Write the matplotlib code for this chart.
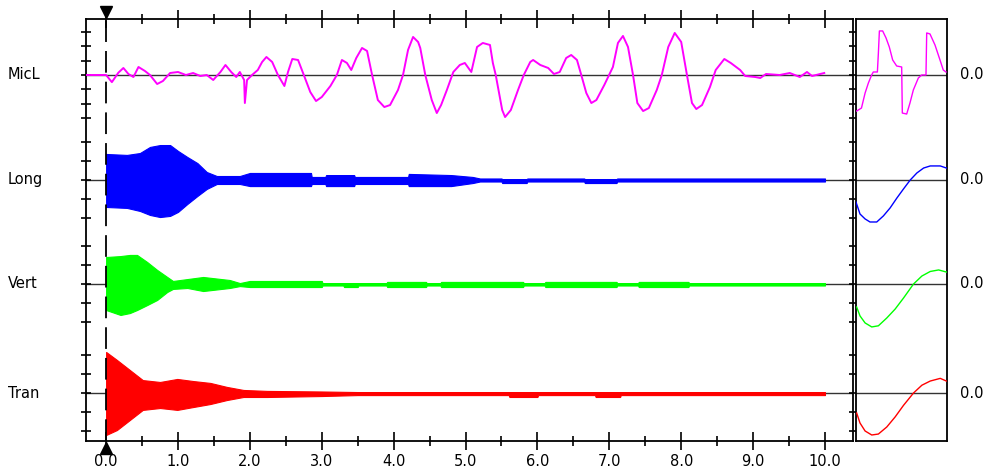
import numpy as np
import matplotlib.pyplot as plt
from matplotlib.ticker import MultipleLocator
from matplotlib.transforms import blended_transform_factory

names = ['MicL', 'Long', 'Vert', 'Tran']
colors = ['#ff00ff', '#0000ff', '#00ff00', '#ff0000']

# MicL trace: time (s) and amplitude (divisions)
micl_t = [-0.28, 0.00, 0.08, 0.17, 0.24, 0.31, 0.38, 0.45, 0.54, 0.61, 0.71, 0.79, 0.89,
          1.00, 1.11, 1.21, 1.31, 1.40, 1.49, 1.59, 1.66, 1.74, 1.81, 1.86, 1.92, 1.93,
          1.96, 2.03, 2.11, 2.17, 2.23, 2.31, 2.39, 2.48, 2.53, 2.59, 2.67, 2.75, 2.84,
          2.92, 3.00, 3.12, 3.21, 3.28, 3.35, 3.41, 3.48, 3.56, 3.63, 3.70, 3.78, 3.87,
          3.95, 4.06, 4.13, 4.20, 4.27, 4.34, 4.37, 4.44, 4.53, 4.60, 4.66, 4.74, 4.83,
          4.92, 4.99, 5.08, 5.16, 5.24, 5.34, 5.38, 5.42, 5.51, 5.55, 5.63, 5.73, 5.81,
          5.90, 5.94, 6.04, 6.15, 6.23, 6.31, 6.40, 6.47, 6.55, 6.61, 6.68, 6.75, 6.82,
          6.93, 7.01, 7.05, 7.12, 7.19, 7.26, 7.33, 7.39, 7.47, 7.55, 7.66, 7.73, 7.82,
          7.91, 8.00, 8.08, 8.15, 8.21, 8.29, 8.40, 8.48, 8.60, 8.69, 8.82, 8.89, 9.03,
          9.10, 9.18, 9.37, 9.51, 9.65, 9.75, 9.82, 9.99]
micl_v = [0.00, 0.00, -0.50, 0.16, 0.49, 0.07, -0.14, 0.56, 0.28, 0.00, -0.63, -0.42, 0.14,
          0.21, 0.00, 0.14, -0.07, 0.00, -0.35, 0.21, 0.70, 0.21, -0.14, 0.21, -0.35, -1.96,
          -0.35, 0.00, 0.35, 0.91, 1.26, 0.91, 0.00, -0.77, 0.21, 1.12, 1.05, 0.00, -1.19,
          -1.82, -1.54, -0.77, 0.00, 1.05, 0.84, 0.35, 1.19, 1.89, 1.68, 0.00, -1.75, -2.24,
          -2.10, -1.05, 0.00, 1.75, 2.66, 2.31, 1.89, 0.00, -1.75, -2.66, -2.10, -1.05, 0.21,
          0.70, 0.84, 0.21, 1.96, 2.24, 2.10, 0.84, 0.00, -2.45, -2.94, -2.45, -1.05, 0.00,
          0.91, 1.05, 0.70, 0.49, 0.07, 0.21, 1.19, 1.40, 1.05, 0.00, -1.26, -1.96, -1.75,
          -0.70, 0.14, 0.56, 2.24, 2.73, 1.96, 0.00, -1.96, -2.52, -2.31, -1.05, 0.00, 1.96,
          2.94, 2.31, 0.00, -1.96, -2.38, -2.10, -0.84, 0.35, 1.12, 0.84, 0.35, -0.07, -0.14,
          -0.21, 0.07, 0.00, 0.14, -0.14, 0.21, -0.07, 0.14]

# vibration channels: envelope (upper / lower, divisions)
long_t = [0.00, 0.29, 0.47, 0.61, 0.75, 0.89, 1.00, 1.13, 1.27, 1.40, 1.54, 1.86, 2.00,
          2.85, 2.86, 3.05, 3.06, 3.45, 3.46, 4.20, 4.21, 4.80, 5.10, 5.20, 5.50, 5.51,
          5.85, 5.86, 6.65, 6.66, 7.10, 7.11, 10.00]
long_hi = [1.37, 1.32, 1.42, 1.74, 1.84, 1.84, 1.53, 1.21, 0.89, 0.42, 0.21, 0.21, 0.37,
           0.37, 0.16, 0.16, 0.26, 0.26, 0.16, 0.16, 0.32, 0.26, 0.16, 0.08, 0.08, 0.05,
           0.05, 0.08, 0.08, 0.05, 0.05, 0.08, 0.08]
long_lo = [-1.42, -1.47, -1.63, -1.84, -1.95, -1.89, -1.68, -1.26, -0.84, -0.47, -0.21,
           -0.21, -0.32, -0.32, -0.21, -0.21, -0.32, -0.32, -0.21, -0.21, -0.32, -0.32,
           -0.16, -0.08, -0.08, -0.16, -0.16, -0.08, -0.08, -0.16, -0.16, -0.08, -0.08]

vert_t = [0.00, 0.20, 0.33, 0.43, 0.57, 0.71, 0.85, 0.93, 1.13, 1.35, 1.72, 1.86, 2.00,
          3.00, 3.01, 3.30, 3.31, 3.50, 3.51, 3.90, 3.91, 4.45, 4.46, 4.65, 4.66, 5.80,
          5.81, 6.10, 6.11, 7.10, 7.11, 7.40, 7.41, 8.10, 8.11, 10.00]
vert_hi = [1.42, 1.47, 1.53, 1.53, 1.16, 0.74, 0.37, 0.16, 0.26, 0.37, 0.21, 0.05, 0.16,
           0.16, 0.05, 0.05, 0.05, 0.05, 0.05, 0.05, 0.11, 0.11, 0.05, 0.05, 0.11, 0.11,
           0.05, 0.05, 0.11, 0.11, 0.05, 0.05, 0.11, 0.11, 0.05, 0.05]
vert_lo = [-1.37, -1.63, -1.53, -1.37, -1.11, -0.84, -0.42, -0.26, -0.21, -0.37, -0.21,
           -0.11, -0.16, -0.16, -0.08, -0.08, -0.16, -0.16, -0.08, -0.08, -0.16, -0.16,
           -0.08, -0.08, -0.16, -0.16, -0.08, -0.08, -0.16, -0.16, -0.08, -0.08, -0.16,
           -0.16, -0.08, -0.08]

tran_t = [0.00, 0.15, 0.33, 0.51, 0.75, 0.99, 1.21, 1.45, 1.68, 1.91, 2.24, 3.00, 3.50,
          5.60, 5.61, 6.00, 6.01, 6.80, 6.81, 7.15, 7.16, 10.00]
tran_hi = [2.16, 1.74, 1.21, 0.68, 0.58, 0.74, 0.63, 0.53, 0.32, 0.16, 0.11, 0.08, 0.05,
           0.05, 0.05, 0.05, 0.05, 0.05, 0.05, 0.05, 0.05, 0.05]
tran_lo = [-2.21, -1.95, -1.42, -0.89, -0.79, -0.89, -0.74, -0.58, -0.37, -0.21, -0.21,
           -0.16, -0.11, -0.11, -0.21, -0.21, -0.11, -0.11, -0.21, -0.21, -0.11, -0.11]

# right-hand detail window: position (% of window) and amplitude (divisions)
zm_micl_u = [0.7, 6.0, 10.0, 13.6, 17.2, 19.0, 23.5, 24.6, 25.7, 29.3, 33.0, 36.6, 40.3,
             44.7, 50.2, 50.9, 55.7, 59.3, 63.0, 68.5, 72.2, 76.9, 77.7, 81.3, 86.8, 92.3,
             95.9, 98.9]
zm_micl_v = [-2.52, -2.31, -1.26, -0.56, 0.00, 0.21, 0.21, 1.54, 3.08, 3.08, 2.59, 1.96,
             1.05, 0.63, 0.56, -2.66, -2.73, -1.96, -1.05, -0.21, 0.00, 0.00, 2.94, 2.87,
             2.10, 1.05, 0.35, 0.21]
zm_long_u = [0.0, 4.4, 10.0, 15.4, 22.8, 30.1, 37.5, 44.9, 52.2, 59.6, 66.9, 74.3, 81.6,
             92.6, 99.3]
zm_long_v = [-1.16, -1.79, -2.05, -2.21, -2.21, -1.89, -1.47, -0.95, -0.47, 0.00, 0.37,
             0.63, 0.74, 0.74, 0.63]
zm_vert_u = [0.7, 4.4, 10.0, 17.3, 24.6, 33.8, 43.0, 52.2, 63.2, 72.4, 81.6, 90.8, 99.3]
zm_vert_v = [-1.21, -1.68, -2.05, -2.26, -2.20, -1.79, -1.32, -0.74, 0.00, 0.42, 0.66,
             0.74, 0.63]
zm_tran_u = [0.7, 4.4, 10.0, 17.3, 24.6, 33.8, 43.0, 52.2, 63.2, 72.4, 81.6, 92.6, 99.3]
zm_tran_v = [-1.05, -1.58, -2.00, -2.21, -2.16, -1.79, -1.26, -0.65, 0.00, 0.41, 0.63,
             0.77, 0.63]

x_ticks = np.arange(0, 11, 1.0)
x_labels = ['%.1f' % v for v in x_ticks]

# layout: channel baselines and division size in axis units
base = [366, 261, 157, 48]
div = [14.3, 19, 19, 19]
nticks = [3, 2, 2, 2]

fig = plt.figure(figsize=(9.88, 4.75), dpi=100)
ax = fig.add_axes([86 / 988, 34 / 475, 767 / 988, 422 / 475])
ax2 = fig.add_axes([856 / 988, 34 / 475, 91 / 988, 422 / 475])

ax.set_xlim(-0.28, 10.39)
ax.set_ylim(0, 422)
ax2.set_xlim(0, 100)
ax2.set_ylim(0, 422)

for b in base:
    ax.axhline(b, color='#333333', lw=1.0, zorder=1)
    ax2.axhline(b, color='#333333', lw=1.0, zorder=1)

ax.plot(micl_t, base[0] + np.array(micl_v) * div[0], color=colors[0], lw=1.4, zorder=3)
env = [(long_t, long_hi, long_lo), (vert_t, vert_hi, vert_lo), (tran_t, tran_hi, tran_lo)]
for i, (t, hi, lo) in enumerate(env, start=1):
    ax.fill_between(t, base[i] + np.array(lo) * div[i], base[i] + np.array(hi) * div[i],
                    color=colors[i], lw=0.8, zorder=3)

zooms = [(zm_micl_u, zm_micl_v), (zm_long_u, zm_long_v), (zm_vert_u, zm_vert_v),
         (zm_tran_u, zm_tran_v)]
for i, (u, v) in enumerate(zooms):
    ax2.plot(u, base[i] + np.array(v) * div[i], color=colors[i], lw=1.0, zorder=3)

# trigger marker
ax.axvline(0, color='k', lw=1.3, ls=(0, (12, 5)), zorder=4)
ax.plot(0, 1.016, marker='v', ms=8, color='k', transform=ax.get_xaxis_transform(),
        clip_on=False)
ax.plot(0, -0.016, marker='^', ms=8, color='k', transform=ax.get_xaxis_transform(),
        clip_on=False)

yt = []
for b, d, n in zip(base, div, nticks):
    yt += [b + k * d for k in range(-n, n + 1)]

ax.set_xticks(x_ticks)
ax.set_xticklabels(x_labels)
ax.xaxis.set_minor_locator(MultipleLocator(0.5))
ax.tick_params(axis='x', which='major', direction='inout', length=13, width=1.2,
               top=True, bottom=True, labelsize=10.5, pad=2.5)
ax.tick_params(axis='x', which='minor', direction='inout', length=6.5, width=1.2,
               top=True, bottom=True)
ax.set_yticks(yt)
ax.tick_params(axis='y', direction='inout', length=6.5, width=1.2, left=True,
               right=False, labelleft=False)

ax2.set_xticks([])
ax2.set_yticks(yt)
ax2.tick_params(axis='y', direction='out', length=5, width=1.2, left=True,
                labelleft=False)

for a in (ax, ax2):
    for s in a.spines.values():
        s.set_linewidth(1.3)

lbl_tr = blended_transform_factory(fig.transFigure, ax.transData)
val_tr = blended_transform_factory(ax2.transAxes, ax2.transData)
for name, b in zip(names, base):
    ax.text(8 / 988, b, name, transform=lbl_tr, ha='left', va='center', fontsize=10.5)
    ax2.text(1.14, b, '0.0', transform=val_tr, ha='left', va='center', fontsize=10.5)

fig.savefig('out.png', dpi=100)
